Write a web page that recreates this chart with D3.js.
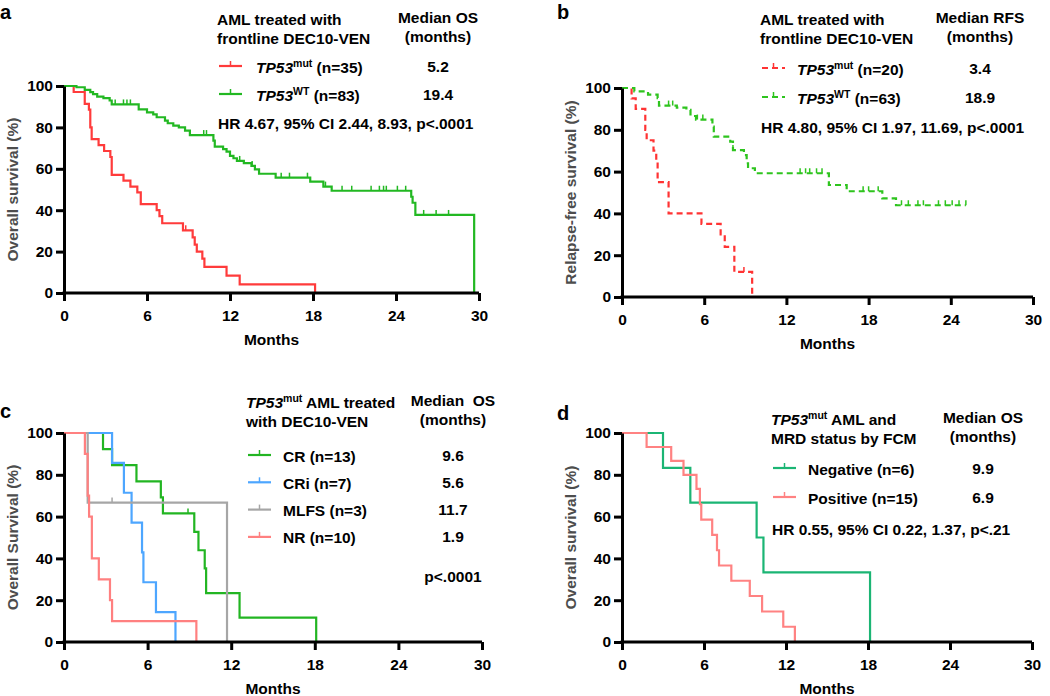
<!DOCTYPE html>
<html lang="en">
  <head>
    <meta charset="UTF-8">
    <title>Kaplan-Meier curves</title>
    <script src="https://d3js.org/d3.v7.min.js"></script>
    <style>
      * { margin: 0; padding: 0; }
      body { background: #fff; }
      body > svg { display: block; }
      text { font-family: "Liberation Sans", Arial, sans-serif; font-weight: bold; }
    </style>
  </head>
  <body>
    <script>
      var width = 1050;
      var height = 696;

      var xTicks = [0, 6, 12, 18, 24, 30];
      var yTicks = [0, 20, 40, 60, 80, 100];

      // panel a: overall survival, TP53 mut vs WT  [month, survival %]
      var aMutSteps = [[0.7, 97.1], [1.5, 91.4], [1.8, 88.6], [1.9, 80], [2.0, 74.3], [2.5, 71.4],
        [2.9, 68.6], [3.35, 65.7], [3.45, 57.1], [4.3, 54.3], [4.8, 51.4], [5.3, 48.6], [5.55, 42.9],
        [6.7, 40], [6.9, 37.1], [7.1, 33.7], [8.6, 30.3], [9.3, 26.9], [9.45, 23.4], [9.6, 20],
        [10.0, 16.6], [10.15, 12.6], [11.75, 8.4], [12.7, 4.2], [18.15, 0]];
      var aMutCensor = [8.8];
      var aWtSteps = [[0.9, 99.4], [1.5, 98.1], [1.9, 97.0], [2.1, 96.1], [2.4, 94.9], [2.85, 94.1],
        [3.3, 93.0], [3.45, 91.1], [5.4, 88.7], [6.0, 87.3], [6.45, 86.3], [6.7, 84.9], [7.3, 83.3],
        [7.5, 82.0], [7.9, 80.9], [8.3, 80.0], [8.75, 78.4], [9.1, 76.3], [10.8, 73.6], [10.9, 70.7],
        [11.5, 69.5], [11.75, 68.3], [12.0, 66.2], [12.25, 65.1], [12.5, 63.8], [13.0, 62.7],
        [13.55, 61.4], [13.8, 59.7], [14.1, 57.6], [15.3, 55.7], [17.8, 53.8], [18.75, 51.4],
        [19.35, 49.4], [25.1, 46.5], [25.2, 43.6], [25.4, 37.7], [29.65, 0]];
      var aWtCensor = [3.7, 4.3, 4.55, 4.8, 10.1, 10.3, 12.7, 13.6, 15.7, 16.3, 17.6, 18.9,
        20.1, 20.8, 22.2, 22.8, 23.1, 23.3, 24.1, 24.7, 26.0, 26.9, 27.8];

      // panel b: relapse-free survival
      var bMutSteps = [[0.7, 95], [1.0, 90], [1.7, 80], [1.8, 75], [2.3, 70], [2.5, 65], [2.6, 55],
        [3.4, 40], [5.8, 35], [7.2, 30], [7.5, 24], [8.2, 12], [9.5, 0]];
      var bMutCensor = [8.9];
      var bWtSteps = [[0.9, 98.4], [1.9, 96.8], [2.6, 95.2], [2.7, 91.6], [4.0, 90.6], [4.7, 89.5],
        [5.0, 86.6], [5.4, 84.9], [6.6, 81.5], [6.7, 76.7], [7.9, 74.3], [8.1, 70.3], [8.9, 67.9],
        [9.1, 64.0], [9.2, 61.6], [9.7, 59.2], [15.1, 53.6], [16.4, 50.6], [19.0, 47.2], [20.0, 43.9]];
      var bWtCensor = [3.4, 3.7, 5.5, 5.9, 8.1, 13.0, 13.4, 13.7, 14.2, 14.6, 17.6, 18.0, 18.7,
        20.4, 20.9, 21.6, 22.0, 23.1, 23.6, 24.1, 24.6, 25.1];

      // panel c: TP53mut by response
      var cCrSteps = [[2.8, 92.3], [3.45, 84.6], [5.2, 76.9], [6.95, 69.2], [7.1, 61.5], [9.35, 52.7],
        [9.65, 43.9], [10.1, 35.2], [10.2, 23.4], [12.6, 11.7], [18.1, 0]];
      var cCrCensor = [8.9];
      var cCriSteps = [[3.45, 85.7], [4.3, 71.4], [4.85, 57.1], [5.6, 42.9], [5.7, 28.6], [6.6, 14.3], [8.0, 0]];
      var cMlfsSteps = [[1.7, 66.7], [11.7, 0]];
      var cMlfsCensor = [3.45];
      var cNrSteps = [[1.5, 90], [1.7, 70], [1.8, 60], [2.0, 40], [2.5, 30], [3.3, 20], [3.45, 10], [9.5, 0]];

      // panel d: TP53mut by MRD status
      var dNegSteps = [[3.0, 83.3], [5.0, 66.7], [9.85, 50], [10.35, 33.3], [18.15, 0]];
      var dPosSteps = [[1.8, 93.3], [3.6, 86.7], [4.5, 80], [5.45, 73.3], [5.7, 65.9], [5.8, 58.6],
        [6.6, 51.3], [6.95, 43.9], [7.1, 36.6], [8.0, 29.3], [9.35, 22], [10.25, 14.6], [11.8, 7.3], [12.65, 0]];

      var svg = d3.select("body").append("svg")
        .attr("width", width)
        .attr("height", height);

      function survivalAt(steps, t) {
        var s = 100;
        steps.forEach(function (d) { if (d[0] <= t) s = d[1]; });
        return s;
      }

      // label with optional italic gene name + superscript
      function richText(sel, parts) {
        if (parts.sup) {
          sel.append("tspan").attr("font-style", "italic").text(parts.it);
          sel.append("tspan").attr("font-size", "10.5px").attr("dy", -6).text(parts.sup);
          sel.append("tspan").attr("dy", 6).text(parts.rest);
        } else {
          sel.text(parts.rest);
        }
      }

      function drawPanel(p) {
        var g = svg.append("g");
        var x = d3.scaleLinear().domain([0, 30]).range([p.left, p.right]);
        var y = d3.scaleLinear().domain([0, 100]).range([p.bottom, p.top]);

        var line = d3.line().x(function (d) { return x(d[0]); }).y(function (d) { return y(d[1]); });

        p.curves.forEach(function (c) {
          var pts = [[0, 100]];
          var s = 100;
          c.steps.forEach(function (d) {
            pts.push([d[0], s]);
            pts.push([d[0], d[1]]);
            s = d[1];
          });
          var censor = c.censor || [];
          var end = d3.max(censor.concat([c.steps[c.steps.length - 1][0]]));
          if (end > pts[pts.length - 1][0]) pts.push([end, s]);

          g.append("path")
            .attr("d", line(pts))
            .attr("fill", "none")
            .attr("stroke", c.color)
            .attr("stroke-width", 2.2)
            .attr("stroke-dasharray", c.dash || null);

          g.selectAll(null)
            .data(censor)
            .enter().append("line")
            .attr("x1", function (t) { return x(t); })
            .attr("x2", function (t) { return x(t); })
            .attr("y1", function (t) { return y(survivalAt(c.steps, t)); })
            .attr("y2", function (t) { return y(survivalAt(c.steps, t)) - 5; })
            .attr("stroke", c.color)
            .attr("stroke-width", 1.5);
        });

        var xAxis = g.append("g")
          .attr("transform", "translate(0," + p.bottom + ")")
          .call(d3.axisBottom(x).tickValues(xTicks).tickSize(8).tickSizeOuter(0).tickPadding(9));
        var yAxis = g.append("g")
          .attr("transform", "translate(" + p.left + ",0)")
          .call(d3.axisLeft(y).tickValues(yTicks).tickSize(8).tickSizeOuter(0).tickPadding(3));

        [xAxis, yAxis].forEach(function (a) {
          a.select(".domain").attr("stroke", "#000").attr("stroke-width", 3);
          a.selectAll(".tick line").attr("stroke", "#000").attr("stroke-width", 3);
          a.selectAll(".tick text")
            .attr("fill", "#000")
            .style("font-size", "15.5px")
            .style("font-family", "'Liberation Sans', Arial, sans-serif")
            .style("font-weight", "bold");
        });
        xAxis.select(".domain").attr("d", "M" + (p.left - 1.5) + ",0H" + p.right);

        g.append("text")
          .attr("x", (p.left + p.right) / 2)
          .attr("y", p.bottom + 52)
          .attr("text-anchor", "middle")
          .style("font-size", "15.5px")
          .text("Months");

        g.append("text")
          .attr("transform", "translate(" + (p.left - 46) + "," + ((p.top + p.bottom) / 2) + ") rotate(-90)")
          .attr("text-anchor", "middle")
          .attr("fill", "#4d4d4d")
          .style("font-size", "15.5px")
          .text(p.ylabel);

        g.append("text")
          .attr("x", p.letterX)
          .attr("y", p.letterY)
          .style("font-size", "20px")
          .text(p.letter);

        // legend header
        var L = p.legend;
        L.title.forEach(function (t, i) {
          var tx = g.append("text")
            .attr("x", L.x)
            .attr("y", L.titleY + i * 19)
            .style("font-size", "15.5px");
          richText(tx, t);
        });
        L.median.forEach(function (t, i) {
          g.append("text")
            .attr("x", L.valX)
            .attr("y", L.titleY - 2 + i * 19)
            .attr("text-anchor", "middle")
            .style("font-size", "15.5px")
            .style("white-space", "pre")
            .text(t);
        });

        L.items.forEach(function (it, i) {
          var ly = L.itemY + i * L.itemGap;
          var c = p.curves[it.curve];
          g.append("line")
            .attr("x1", L.x + 2).attr("x2", L.x + 25)
            .attr("y1", ly).attr("y2", ly)
            .attr("stroke", c.color).attr("stroke-width", 2.2)
            .attr("stroke-dasharray", c.dash || null);
          g.append("line")
            .attr("x1", L.x + 13.5).attr("x2", L.x + 13.5)
            .attr("y1", ly).attr("y2", ly - 5)
            .attr("stroke", c.color).attr("stroke-width", 1.5);
          var tx = g.append("text")
            .attr("x", L.textX)
            .attr("y", ly + 6.5)
            .style("font-size", "15.5px");
          richText(tx, it.label);
          g.append("text")
            .attr("x", L.valX)
            .attr("y", ly + 5.5)
            .attr("text-anchor", "middle")
            .style("font-size", "15.5px")
            .text(it.value);
        });

        if (L.note) {
          g.append("text")
            .attr("x", L.noteAnchor === "middle" ? L.valX : L.x + 1)
            .attr("y", L.noteY)
            .attr("text-anchor", L.noteAnchor || "start")
            .style("font-size", "15.5px")
            .text(L.note);
        }
      }

      drawPanel({
        left: 64, right: 479, top: 86, bottom: 293,
        letter: "a", letterX: 0, letterY: 19,
        ylabel: "Overall survival (%)",
        curves: [
          { steps: aMutSteps, censor: aMutCensor, color: "#ff3b3b" },
          { steps: aWtSteps, censor: aWtCensor, color: "#22b822" }
        ],
        legend: {
          x: 217, textX: 256, valX: 438, titleY: 25, itemY: 66, itemGap: 28, noteY: 129,
          title: [{ rest: "AML treated with" }, { rest: "frontline DEC10-VEN" }],
          median: ["Median OS", "(months)"],
          items: [
            { curve: 0, label: { it: "TP53", sup: "mut", rest: " (n=35)" }, value: "5.2" },
            { curve: 1, label: { it: "TP53", sup: "WT", rest: " (n=83)" }, value: "19.4" }
          ],
          note: "HR 4.67, 95% CI 2.44, 8.93, p<.0001"
        }
      });

      drawPanel({
        left: 622, right: 1033, top: 88, bottom: 297,
        letter: "b", letterX: 557, letterY: 19,
        ylabel: "Relapse-free survival (%)",
        curves: [
          { steps: bMutSteps, censor: bMutCensor, color: "#ff3333", dash: "6,4" },
          { steps: bWtSteps, censor: bWtCensor, color: "#2ec41e", dash: "6,4" }
        ],
        legend: {
          x: 760, textX: 797, valX: 980, titleY: 25, itemY: 68, itemGap: 29, noteY: 133,
          title: [{ rest: "AML treated with" }, { rest: "frontline DEC10-VEN" }],
          median: ["Median RFS", "(months)"],
          items: [
            { curve: 0, label: { it: "TP53", sup: "mut", rest: " (n=20)" }, value: "3.4" },
            { curve: 1, label: { it: "TP53", sup: "WT", rest: " (n=63)" }, value: "18.9" }
          ],
          note: "HR 4.80, 95% CI 1.97, 11.69, p<.0001"
        }
      });

      drawPanel({
        left: 64, right: 482, top: 433, bottom: 642,
        letter: "c", letterX: 0, letterY: 418,
        ylabel: "Overall Survival (%)",
        curves: [
          { steps: cCrSteps, censor: cCrCensor, color: "#22b522" },
          { steps: cCriSteps, color: "#4da6ff" },
          { steps: cMlfsSteps, censor: cMlfsCensor, color: "#a6a6a6" },
          { steps: cNrSteps, color: "#ff8080" }
        ],
        legend: {
          x: 246, textX: 283, valX: 453, titleY: 408, itemY: 455, itemGap: 27.3, noteY: 582,
          noteAnchor: "middle",
          title: [{ it: "TP53", sup: "mut", rest: " AML treated" }, { rest: "with DEC10-VEN" }],
          median: ["Median  OS", "(months)"],
          items: [
            { curve: 0, label: { rest: "CR (n=13)" }, value: "9.6" },
            { curve: 1, label: { rest: "CRi (n=7)" }, value: "5.6" },
            { curve: 2, label: { rest: "MLFS (n=3)" }, value: "11.7" },
            { curve: 3, label: { rest: "NR (n=10)" }, value: "1.9" }
          ],
          note: "p<.0001"
        }
      });

      drawPanel({
        left: 622, right: 1032, top: 433, bottom: 642,
        letter: "d", letterX: 557, letterY: 420,
        ylabel: "Overall survival (%)",
        curves: [
          { steps: dNegSteps, color: "#1bb574" },
          { steps: dPosSteps, color: "#ff8282" }
        ],
        legend: {
          x: 771, textX: 808, valX: 983, titleY: 425, itemY: 468, itemGap: 29, noteY: 535,
          title: [{ it: "TP53", sup: "mut", rest: " AML and" }, { rest: "MRD status by FCM" }],
          median: ["Median OS", "(months)"],
          items: [
            { curve: 0, label: { rest: "Negative (n=6)" }, value: "9.9" },
            { curve: 1, label: { rest: "Positive (n=15)" }, value: "6.9" }
          ],
          note: "HR 0.55, 95% CI 0.22, 1.37, p<.21"
        }
      });
    </script>
  </body>
</html>
